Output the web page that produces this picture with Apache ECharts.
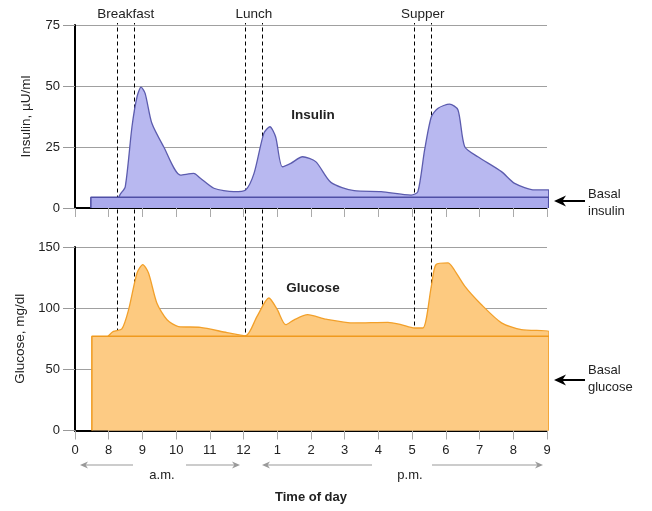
<!DOCTYPE html>
<html><head><meta charset="utf-8">
<script src="https://cdn.jsdelivr.net/npm/echarts@6/dist/echarts.min.js"></script>
<style>html,body{margin:0;padding:0;background:#fff}#c{width:652px;height:511px}</style>
</head><body><div id="c"></div>
<script>
// ---- data ----
const xTickLabels = ['0','8','9','10','11','12','1','2','3','4','5','6','7','8','9'];
const hourMin = 7, hourMax = 21;
const insulinTicks = [0, 25, 50, 75];
const glucoseTicks = [0, 50, 100, 150];
const mealNames = ['Breakfast', 'Lunch', 'Supper'];
const mealStart = [8.25, 12.05, 17.05];
const mealEnd   = [8.76, 12.56, 17.58];

const insulinHours  = [8.3, 8.34, 8.49, 8.69, 8.84, 8.96, 9.08, 9.28, 9.63, 10.13, 10.52, 10.72, 11.12, 11.71, 12.06, 12.31, 12.6, 12.78, 12.95, 13.15, 13.4, 13.75, 14.14, 14.59, 15.28, 16.08, 16.97, 17.17, 17.37, 17.57, 17.77, 18.11, 18.36, 18.56, 18.95, 19.65, 20.04, 20.64, 21.05, 21.05];
const insulinValues = [4.4, 5.6, 8.7, 33.3, 45.6, 49.5, 47, 34.7, 25.1, 13.5, 14.2, 12.2, 8.1, 6.7, 7.4, 14.2, 30.6, 33.3, 29.2, 16.9, 18.3, 21, 19, 10.5, 7.1, 6.7, 5.3, 6.7, 23.8, 37.4, 40.9, 42.6, 40.2, 25.1, 21, 14.9, 10.1, 7.4, 7.4, 4.4];
const basalInsulinSpan = [7.47, 21.05];
const basalInsulinLevel = 4.4;

const glucoseHours  = [7.98, 8.14, 8.39, 8.59, 8.84, 9.01, 9.18, 9.43, 9.73, 10.07, 10.72, 11.51, 12.06, 12.4, 12.75, 13.0, 13.25, 13.5, 13.9, 14.45, 15.28, 16.28, 16.67, 17.07, 17.32, 17.57, 17.71, 18.06, 18.21, 18.56, 19.05, 19.65, 20.24, 21.06, 21.06];
const glucoseValues = [77, 81, 83, 98.8, 128.8, 135.6, 128.8, 104, 90.5, 85, 84.3, 80, 77.4, 93.3, 108.3, 98.8, 86.5, 90.5, 94.7, 91, 87.9, 88.4, 86.5, 83.8, 83.8, 118, 135.7, 137, 133, 118, 103, 88, 82.4, 81, 77];
const basalGlucoseSpan = [7.5, 21.06];
const basalGlucoseLevel = 77;

// ---- build ----
const FONT = 'Liberation Sans';
const pairs = (xs, ys) => xs.map((x, i) => [x, ys[i]]);
const rect = (span, level) => [[span[0], 0], [span[0], level], [span[1], level], [span[1], 0]];

const GRID_L = 75, GRID_R = 105;
const xBase = (gi, showLabels) => ({
  type: 'value', gridIndex: gi, min: hourMin, max: hourMax, interval: 1,
  axisLine: { show: true, onZero: false, lineStyle: { color: '#000', width: 2 } },
  axisTick: { show: true, length: 9, lineStyle: { color: '#aaa', width: 1 } },
  axisLabel: { show: showLabels, margin: 13, fontSize: 13, fontFamily: FONT, color: '#222',
    formatter: v => xTickLabels[Math.round(v - hourMin)] },
  splitLine: { show: false }
});
const yBase = (gi, max, interval, name) => ({
  type: 'value', gridIndex: gi, min: 0, max: max, interval: interval,
  name: name, nameLocation: 'middle', nameGap: 42, nameRotate: 90,
  nameTextStyle: { fontSize: 13.5, fontFamily: FONT, color: '#222' },
  axisLine: { show: true, lineStyle: { color: '#000', width: 2 } },
  axisTick: { show: true, length: 12, lineStyle: { color: '#999', width: 1 } },
  axisLabel: { margin: 15, fontSize: 13, fontFamily: FONT, color: '#222' },
  splitLine: { show: true, lineStyle: { color: '#a0a0a0', width: 1 } }
});

const arrowH = (x1, x2, y, color, w, head) => {
  const dir = Math.sign(x2 - x1);
  return [
    { type: 'line', shape: { x1: x1, y1: y, x2: x2 - dir * head * 0.6, y2: y }, style: { stroke: color, lineWidth: w }, z: 10 },
    { type: 'polygon', shape: { points: [[x2, y], [x2 - dir * head, y - head * 0.45], [x2 - dir * head * 0.7, y], [x2 - dir * head, y + head * 0.45]] }, style: { fill: color }, z: 10 }
  ];
};
const txt = (x, y, t, opts) => Object.assign({ type: 'text', x: x, y: y, z: 10,
  style: Object.assign({ text: t, fontSize: 13, fontFamily: FONT, fill: '#222', align: 'center', verticalAlign: 'middle' }, opts || {}) });

const graphics = [].concat(
  [txt(313, 115, 'Insulin', { fontWeight: 'bold', fontSize: 13.5 }), txt(313, 288, 'Glucose', { fontWeight: 'bold', fontSize: 13.5 })],
  arrowH(585, 554, 201, '#000', 2, 12),
  arrowH(585, 554, 380, '#000', 2, 12),
  [txt(588, 194, 'Basal', { align: 'left' }), txt(588, 211, 'insulin', { align: 'left' }),
   txt(588, 370, 'Basal', { align: 'left' }), txt(588, 387, 'glucose', { align: 'left' })],
  arrowH(133, 80, 465, '#999', 1.2, 8), arrowH(186, 240, 465, '#999', 1.2, 8),
  arrowH(372, 262, 465, '#999', 1.2, 8), arrowH(432, 543, 465, '#999', 1.2, 8),
  [txt(162, 475, 'a.m.'), txt(410, 475, 'p.m.')]
);

const chart = echarts.init(document.getElementById('c'), null, { renderer: 'canvas' });
chart.setOption({
  animation: false,
  backgroundColor: '#fff',
  grid: [
    { left: GRID_L, right: GRID_R, top: 25, height: 183 },
    { left: GRID_L, right: GRID_R, top: 247, height: 183.5 },
    { left: GRID_L, right: GRID_R, top: 23, bottom: 80.5 }
  ],
  xAxis: [
    xBase(0, false),
    Object.assign(xBase(1, true), { name: 'Time of day', nameLocation: 'middle', nameGap: 60,
      nameTextStyle: { fontSize: 13, fontWeight: 'bold', fontFamily: FONT, color: '#222' } }),
    { type: 'value', gridIndex: 2, min: hourMin, max: hourMax, show: false }
  ],
  yAxis: [
    yBase(0, 75, 25, 'Insulin, \u00b5U/ml'),
    yBase(1, 150, 50, 'Glucose, mg/dl'),
    { type: 'value', gridIndex: 2, min: 0, max: 1, show: false }
  ],
  series: [
    {
      type: 'line', xAxisIndex: 2, yAxisIndex: 2, data: [], z: 1, silent: true,
      markLine: {
        z: 1, silent: true, symbol: 'none', label: { show: false },
        lineStyle: { color: '#000', type: [4, 3], width: 1 },
        data: mealStart.concat(mealEnd).map(h => ({ xAxis: h }))
      },
      markArea: {
        z: 1, silent: true, itemStyle: { color: 'rgba(0,0,0,0)' },
        label: { show: true, position: 'top', distance: 2, fontSize: 13.5, fontFamily: FONT, color: '#222' },
        data: mealNames.map((n, i) => [{ name: n, xAxis: mealStart[i] }, { xAxis: mealEnd[i] }])
      }
    },
    {
      name: 'Insulin', type: 'line', xAxisIndex: 0, yAxisIndex: 0, z: 6,
      data: pairs(insulinHours, insulinValues), smooth: 0.25, showSymbol: false,
      lineStyle: { color: '#5c5cae', width: 1.3 },
      areaStyle: { color: '#b8b8f0', opacity: 1 }
    },
    {
      name: 'Basal insulin', type: 'line', xAxisIndex: 0, yAxisIndex: 0, z: 7,
      data: rect(basalInsulinSpan, basalInsulinLevel), showSymbol: false,
      lineStyle: { color: '#4f4fa5', width: 1.5 },
      areaStyle: { color: '#aaaaec', opacity: 1 }
    },
    {
      name: 'Glucose', type: 'line', xAxisIndex: 1, yAxisIndex: 1, z: 6,
      data: pairs(glucoseHours, glucoseValues), smooth: 0.25, showSymbol: false,
      lineStyle: { color: '#f2a02a', width: 1.3 },
      areaStyle: { color: '#fdca80', opacity: 1 }
    },
    {
      name: 'Basal glucose', type: 'line', xAxisIndex: 1, yAxisIndex: 1, z: 7,
      data: rect(basalGlucoseSpan, basalGlucoseLevel), showSymbol: false,
      lineStyle: { color: '#f09a1e', width: 1.5 },
      areaStyle: { color: '#fdcb84', opacity: 1 }
    }
  ],
  graphic: graphics
});
</script>
</body></html>
